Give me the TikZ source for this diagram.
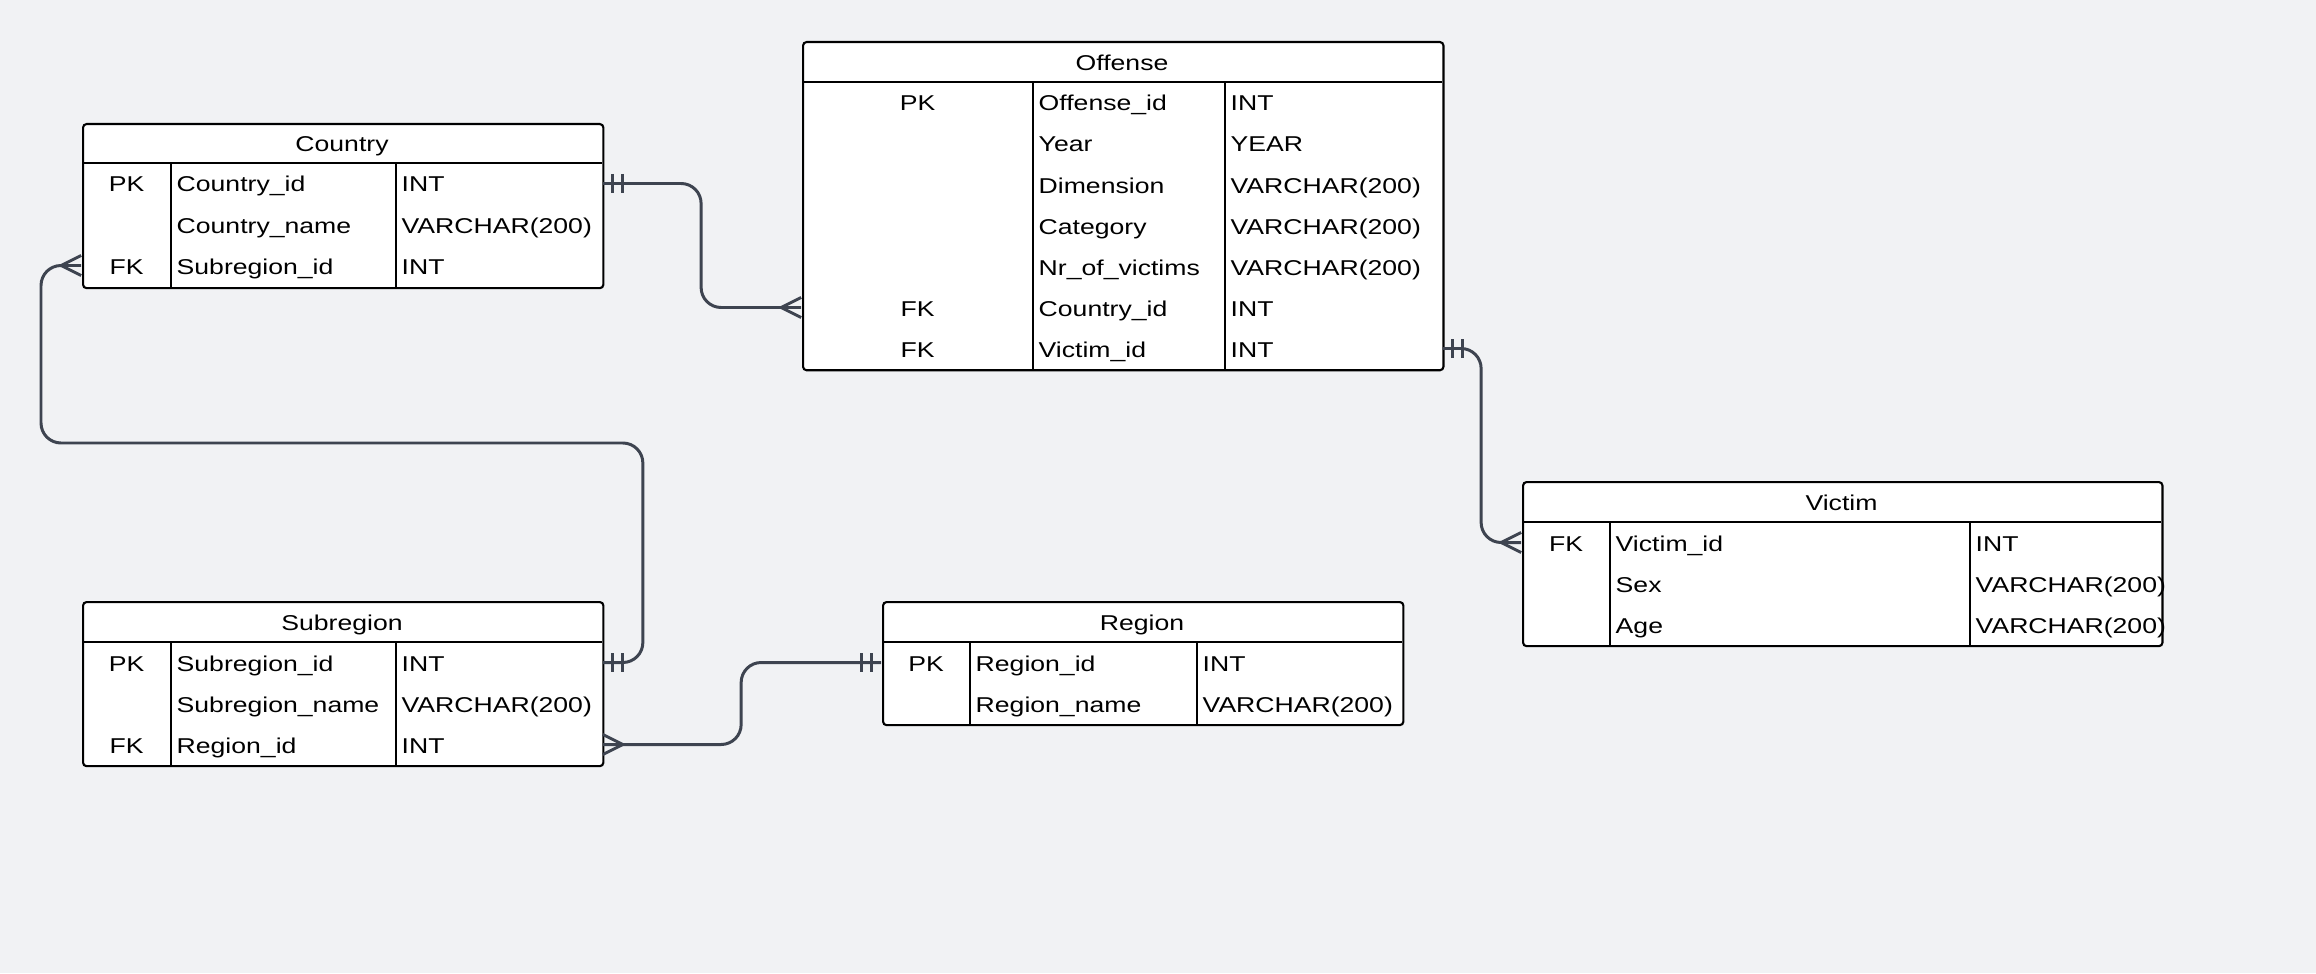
\documentclass[tikz,border=0pt]{standalone}
\usepackage{fontspec}
\setmainfont[FakeStretch=1.24]{Liberation Sans}
\usetikzlibrary{calc}

\definecolor{canvas}{HTML}{F1F2F4}
\definecolor{link}{HTML}{3E4450}

\tikzset{
  tbl/.style={draw=black, fill=white, line width=0.6pt, rounded corners=1pt, inner sep=0, anchor=north west},
  grid/.style={black, line width=0.6pt},
  rowbox/.style={inner sep=0, minimum height=0.41cm},
  cell/.style={inner sep=0, anchor=base west, font=\fontsize{6.1}{7}\selectfont},
  key/.style={inner sep=0, anchor=base, font=\fontsize{6.1}{7}\selectfont},
  rel/.style={draw=link, line width=0.85pt, rounded corners=0.2cm},
  onebar/.pic={\draw[link, line width=0.85pt] (10,-9.5) -- (10,9.5) (20,-9.5) -- (20,9.5);},
  crow/.pic={\draw[link, line width=0.85pt] (0,-10) -- (-20,0) -- (0,10);}
}

\begin{document}
\begin{tikzpicture}[x=0.01cm, y=-0.01cm]
    \fill[canvas] (0,0) rectangle (2316,973);
    \useasboundingbox (0,0) rectangle (2316,973);

    % Country
    \node[tbl, minimum width=5.2cm, minimum height=1.64cm] (country) at (82,123) {};
    \draw[grid] (82,163) -- (602,163) (171,163) -- (171,287) (396,163) -- (396,287);
    \node[key] (country-t) at (342,151.5) {Country};
    \foreach \k/\f/\t [count=\i] in {PK/Country\_id/INT, /Country\_name/VARCHAR(200), FK/Subregion\_id/INT} {
        \node[rowbox, minimum width=5.2cm] (country-\i) at (342,142.5+41*\i) {};
        \node[key]  (country-k\i) at (126.5,151+41*\i) {\k};
        \node[cell] (country-f\i) at (176,151+41*\i) {\f};
        \node[cell] (country-d\i) at (401,151+41*\i) {\t};
    }

    % Offense
    \node[tbl, minimum width=6.4cm, minimum height=3.28cm] (offense) at (802,41) {};
    \draw[grid] (802,82) -- (1442,82) (1033,82) -- (1033,369) (1225,82) -- (1225,369);
    \node[key] (offense-t) at (1122,70.5) {Offense};
    \foreach \k/\f/\t [count=\i] in {PK/Offense\_id/INT, /Year/YEAR, /Dimension/VARCHAR(200),
        /Category/VARCHAR(200), /Nr\_of\_victims/VARCHAR(200), FK/Country\_id/INT, FK/Victim\_id/INT} {
        \node[rowbox, minimum width=6.4cm] (offense-\i) at (1122,61.5+41*\i) {};
        \node[key]  (offense-k\i) at (917.5,70+41*\i) {\k};
        \node[cell] (offense-f\i) at (1038,70+41*\i) {\f};
        \node[cell] (offense-d\i) at (1230,70+41*\i) {\t};
    }

    % Victim
    \node[tbl, minimum width=6.39cm, minimum height=1.64cm] (victim) at (1522,481) {};
    \draw[grid] (1522,522) -- (2161,522) (1610,522) -- (1610,645) (1970,522) -- (1970,645);
    \node[key] (victim-t) at (1841.5,510) {Victim};
    \foreach \k/\f/\t [count=\i] in {FK/Victim\_id/INT, /Sex/VARCHAR(200), /Age/VARCHAR(200)} {
        \node[rowbox, minimum width=6.39cm] (victim-\i) at (1841.5,501.5+41*\i) {};
        \node[key]  (victim-k\i) at (1566,510+41*\i) {\k};
        \node[cell] (victim-f\i) at (1615,510+41*\i) {\f};
        \node[cell] (victim-d\i) at (1975,510+41*\i) {\t};
    }

    % Subregion
    \node[tbl, minimum width=5.2cm, minimum height=1.64cm] (subregion) at (82,601) {};
    \draw[grid] (82,642) -- (602,642) (171,642) -- (171,765) (396,642) -- (396,765);
    \node[key] (subregion-t) at (342,630) {Subregion};
    \foreach \k/\f/\t [count=\i] in {PK/Subregion\_id/INT, /Subregion\_name/VARCHAR(200), FK/Region\_id/INT} {
        \node[rowbox, minimum width=5.2cm] (subregion-\i) at (342,621.5+41*\i) {};
        \node[key]  (subregion-k\i) at (126.5,630+41*\i) {\k};
        \node[cell] (subregion-f\i) at (176,630+41*\i) {\f};
        \node[cell] (subregion-d\i) at (401,630+41*\i) {\t};
    }

    % Region
    \node[tbl, minimum width=5.2cm, minimum height=1.23cm] (region) at (882,601) {};
    \draw[grid] (882,642) -- (1402,642) (970,642) -- (970,724) (1197,642) -- (1197,724);
    \node[key] (region-t) at (1142,630) {Region};
    \foreach \k/\f/\t [count=\i] in {PK/Region\_id/INT, /Region\_name/VARCHAR(200)} {
        \node[rowbox, minimum width=5.2cm] (region-\i) at (1142,621.5+41*\i) {};
        \node[key]  (region-k\i) at (926,630+41*\i) {\k};
        \node[cell] (region-f\i) at (975,630+41*\i) {\f};
        \node[cell] (region-d\i) at (1202,630+41*\i) {\t};
    }

    % relations
    \coordinate (bend) at (41,443);
    \draw[rel] (country-1.east) -| ($(offense-6.west)+(-100,0)$) -- (offense-6.west);
    \draw[rel] (offense-7.east) -| ($(victim-1.west)+(-40,0)$) -- (victim-1.west);
    \draw[rel] (subregion-1.east) -- ++(40,0) |- (bend) |- (country-3.west);
    \draw[rel] (subregion-3.east) -| ($(region-1.west)+(-140,0)$) -- (region-1.west);

    \pic at (country-1.east) {onebar};
    \pic at (offense-6.west) {crow};
    \pic at (offense-7.east) {onebar};
    \pic at (victim-1.west) {crow};
    \pic at (subregion-1.east) {onebar};
    \pic at (country-3.west) {crow};
    \pic[xscale=-1] at (region-1.west) {onebar};
    \pic[xscale=-1] at (subregion-3.east) {crow};
\end{tikzpicture}
\end{document}
